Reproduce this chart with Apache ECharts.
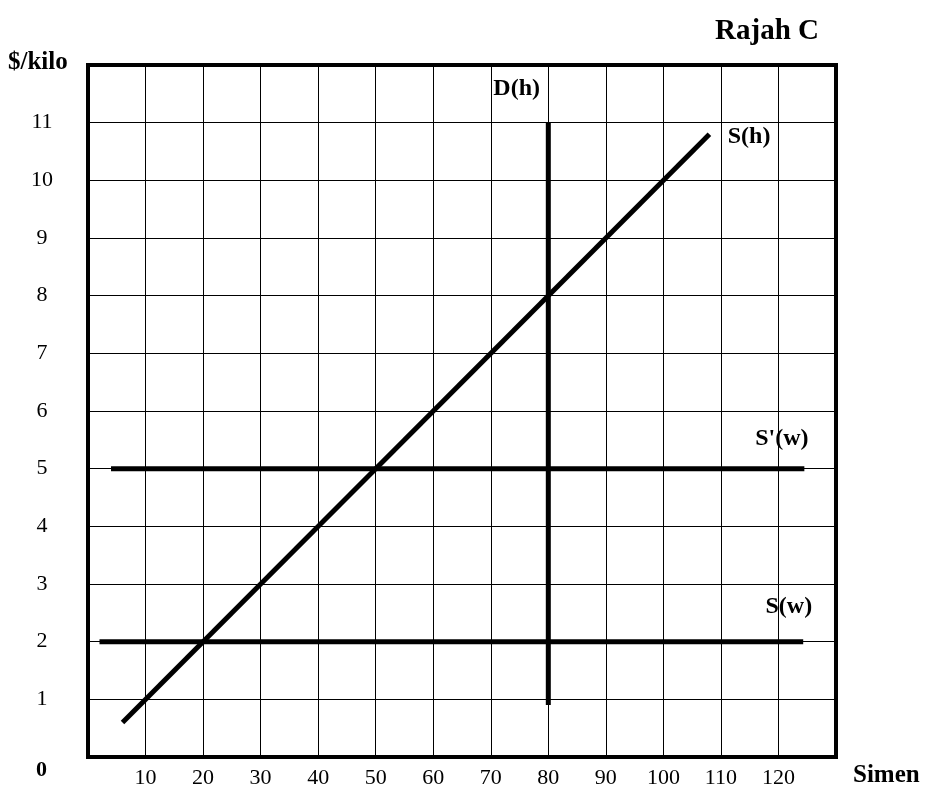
<!DOCTYPE html>
<html><head><meta charset="utf-8">
<script src="https://cdn.jsdelivr.net/npm/echarts@6/dist/echarts.min.js"></script>
<style>html,body{margin:0;padding:0;background:#fff}#c{width:928px;height:791px}</style>
</head><body><div id="c"></div>
<script>
// Data
const xTicks = [10,20,30,40,50,60,70,80,90,100,110,120];
const yTicks = [1,2,3,4,5,6,7,8,9,10,11];
const supplyH = [[6,0.6],[108,10.8]];          // S(h)
const demandH = [[80,0.9],[80,11]];            // D(h)
const supplyWPrime = [[4,5],[124.5,5]];        // S'(w)
const supplyW = [[2,2],[124.3,2]];             // S(w)
const lineLabels = [
  {name:'D(h)', value:[74.5,11.58]},
  {name:'S(h)', value:[114.9,10.75]},
  {name:"S'(w)", value:[120.6,5.52]},
  {name:'S(w)', value:[121.8,2.6]}
];
const FONT = '"Liberation Serif","DejaVu Serif",serif';

const chart = echarts.init(document.getElementById('c'));
const lineStyle = {color:'#000', width:5};
function seg(data){ return {type:'line', data, symbol:'none', lineStyle, silent:true, animation:false}; }
chart.setOption({
  animation:false,
  backgroundColor:'#fff',
  title:{text:'Rajah C', right:104, top:12, textStyle:{fontFamily:FONT, fontWeight:'bold', fontSize:29, color:'#000'}},
  grid:{left:88, right:92, top:65, bottom:34, show:true, borderColor:'#000', borderWidth:4, backgroundColor:'transparent'},
  xAxis:{type:'value', min:0, max:130, interval:10,
    axisLine:{show:false}, axisTick:{show:false},
    splitLine:{show:true, lineStyle:{color:'#000', width:1}},
    axisLabel:{margin:10, fontFamily:FONT, fontSize:22, color:'#000',
      formatter:v => xTicks.includes(v) ? String(v) : ''}},
  yAxis:{type:'value', min:0, max:12, interval:1,
    axisLine:{show:false}, axisTick:{show:false},
    splitLine:{show:true, lineStyle:{color:'#000', width:1}},
    axisLabel:{margin:46, align:'center', fontFamily:FONT, fontSize:22, color:'#000',
      formatter:v => yTicks.includes(v) ? String(v) : ''}},
  graphic:[
    {type:'text', left:8, top:50, style:{text:'$/kilo', fontFamily:FONT, fontWeight:'bold', fontSize:25, fill:'#000'}},
    {type:'text', left:853, top:763, style:{text:'Simen', fontFamily:FONT, fontWeight:'bold', fontSize:25, fill:'#000'}},
    {type:'text', left:36, top:759, style:{text:'0', fontFamily:FONT, fontWeight:'bold', fontSize:22, fill:'#000'}}
  ],
  series:[
    seg(supplyH), seg(demandH), seg(supplyWPrime), seg(supplyW),
    {type:'scatter', data:lineLabels, symbolSize:0, silent:true, itemStyle:{opacity:1},
      label:{show:true, position:'inside', opacity:1, formatter:p=>p.name, fontFamily:FONT, fontWeight:'bold', fontSize:24, color:'#000'}}
  ]
});
</script></body></html>
